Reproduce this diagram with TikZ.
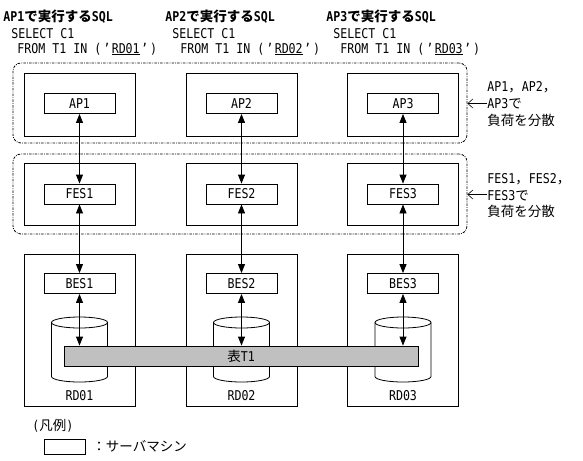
\documentclass[tikz,border=0pt]{standalone}
\usepackage{fontspec}
\setmainfont{DejaVu Sans Mono}[FakeStretch=0.86]
\newfontfamily\jpfont{Noto Sans CJK JP}
\newcommand\J[1]{{\jpfont #1}}
\newcommand\oq{\makebox[10.5pt][r]{’\kern1.5pt}}
\newcommand\cq{\makebox[10.5pt][l]{\kern1.5pt’}}
\usetikzlibrary{arrows.meta}
\definecolor{tablegray}{RGB}{192,192,192}
\begin{document}
\begin{tikzpicture}[x=1pt,y=-1pt,
  font=\fontsize{13.5}{16}\selectfont,
  line width=0.8pt,
  txt/.style={anchor=base west, inner sep=0pt},
  server/.style={draw, minimum width=111pt, inner sep=0pt},
  proc/.style={draw, minimum width=71pt, minimum height=20pt, inner sep=0pt},
  grp/.style={draw, rounded corners=8pt, minimum width=454pt, minimum height=80pt,
    inner sep=0pt, dash pattern=on 2.5pt off 1.2pt on 0.8pt off 1.2pt},
  darrow/.style={{Triangle[length=9pt,width=7pt]}-{Triangle[length=9pt,width=7pt]}},
  note/.style={-{Straight Barb[length=5pt,width=9pt]}, line width=0.6pt}
]
\useasboundingbox (0,0) rectangle (583,460);

% headers
\foreach \i/\hx/\sx/\fx in {1/3/11/17, 2/165/172/180, 3/326/333/340}{
  \node[txt] (h\i) at (\hx,22) {\bfseries AP\i\J{で実行する}SQL};
  \node[txt] (s\i) at (\sx,39) {SELECT C1};
  \node[txt] (f\i) at (\fx,53) {FROM T1 IN (\oq\underline{RD0\i}\cq)};
}

% dotted groups
\node[grp] (g1) at (240,103) {};
\node[grp] (g2) at (240,194) {};

% servers and processes
\foreach \i/\cx in {1/79.5, 2/241.5, 3/403}{
  \node[server, minimum height=63pt] (sa\i) at (\cx,104.5) {};
  \node[proc] (ap\i) at (\cx,103.5) {AP\i};
  \node[server, minimum height=62pt] (sf\i) at (\cx,194) {};
  \node[proc] (fes\i) at (\cx,194) {FES\i};
  \node[server, minimum height=152pt] (sb\i) at (\cx,330) {};
  \node[proc] (bes\i) at (\cx,283.5) {BES\i};
  % cylinder
  \draw (\cx,322.5) ellipse [x radius=28, y radius=5.5];
  \draw (\cx-28,322.5) -- (\cx-28,376.5)
        arc[start angle=180, end angle=0, x radius=28, y radius=5.5]
        -- (\cx+28,322.5);
  \node (rd\i) at (\cx,396) {RD0\i};
}

% table T1
\node[draw, fill=tablegray, minimum width=354pt, minimum height=20pt, inner sep=0pt]
  (t1) at (241,356) {\J{表}T1};

% connectors
\foreach \i in {1,2,3}{
  \draw[darrow] (ap\i.south) -- (fes\i.north);
  \draw[darrow] (fes\i.south) -- (bes\i.north);
  \draw[darrow] (bes\i.south) -- (bes\i.south |- t1.north);
}

% notes on the right
\node[txt] (n1a) at (487,91) {AP1\J{，}AP2\J{，}};
\node[txt] (n1b) at (487,108) {AP3\J{で}};
\node[txt] (n1c) at (487,125) {\J{負荷を分散}};
\coordinate (c1) at (487,103.5);
\draw[note] (c1) -- (g1.east |- c1);

\node[txt] (n2a) at (487,183) {FES1\J{，}FES2\J{，}};
\node[txt] (n2b) at (487,200) {FES3\J{で}};
\node[txt] (n2c) at (487,216) {\J{負荷を分散}};
\coordinate (c2) at (487,194.5);
\draw[note] (c2) -- (g2.east |- c2);

% legend
\node[txt] (leg) at (32,430) {(\J{凡例})};
\node[draw, minimum width=41pt, minimum height=15pt, inner sep=0pt] (legbox) at (64.5,446.5) {};
\node[txt] (legtxt) at (92,451) {\J{：サーバマシン}};
\end{tikzpicture}
\end{document}
